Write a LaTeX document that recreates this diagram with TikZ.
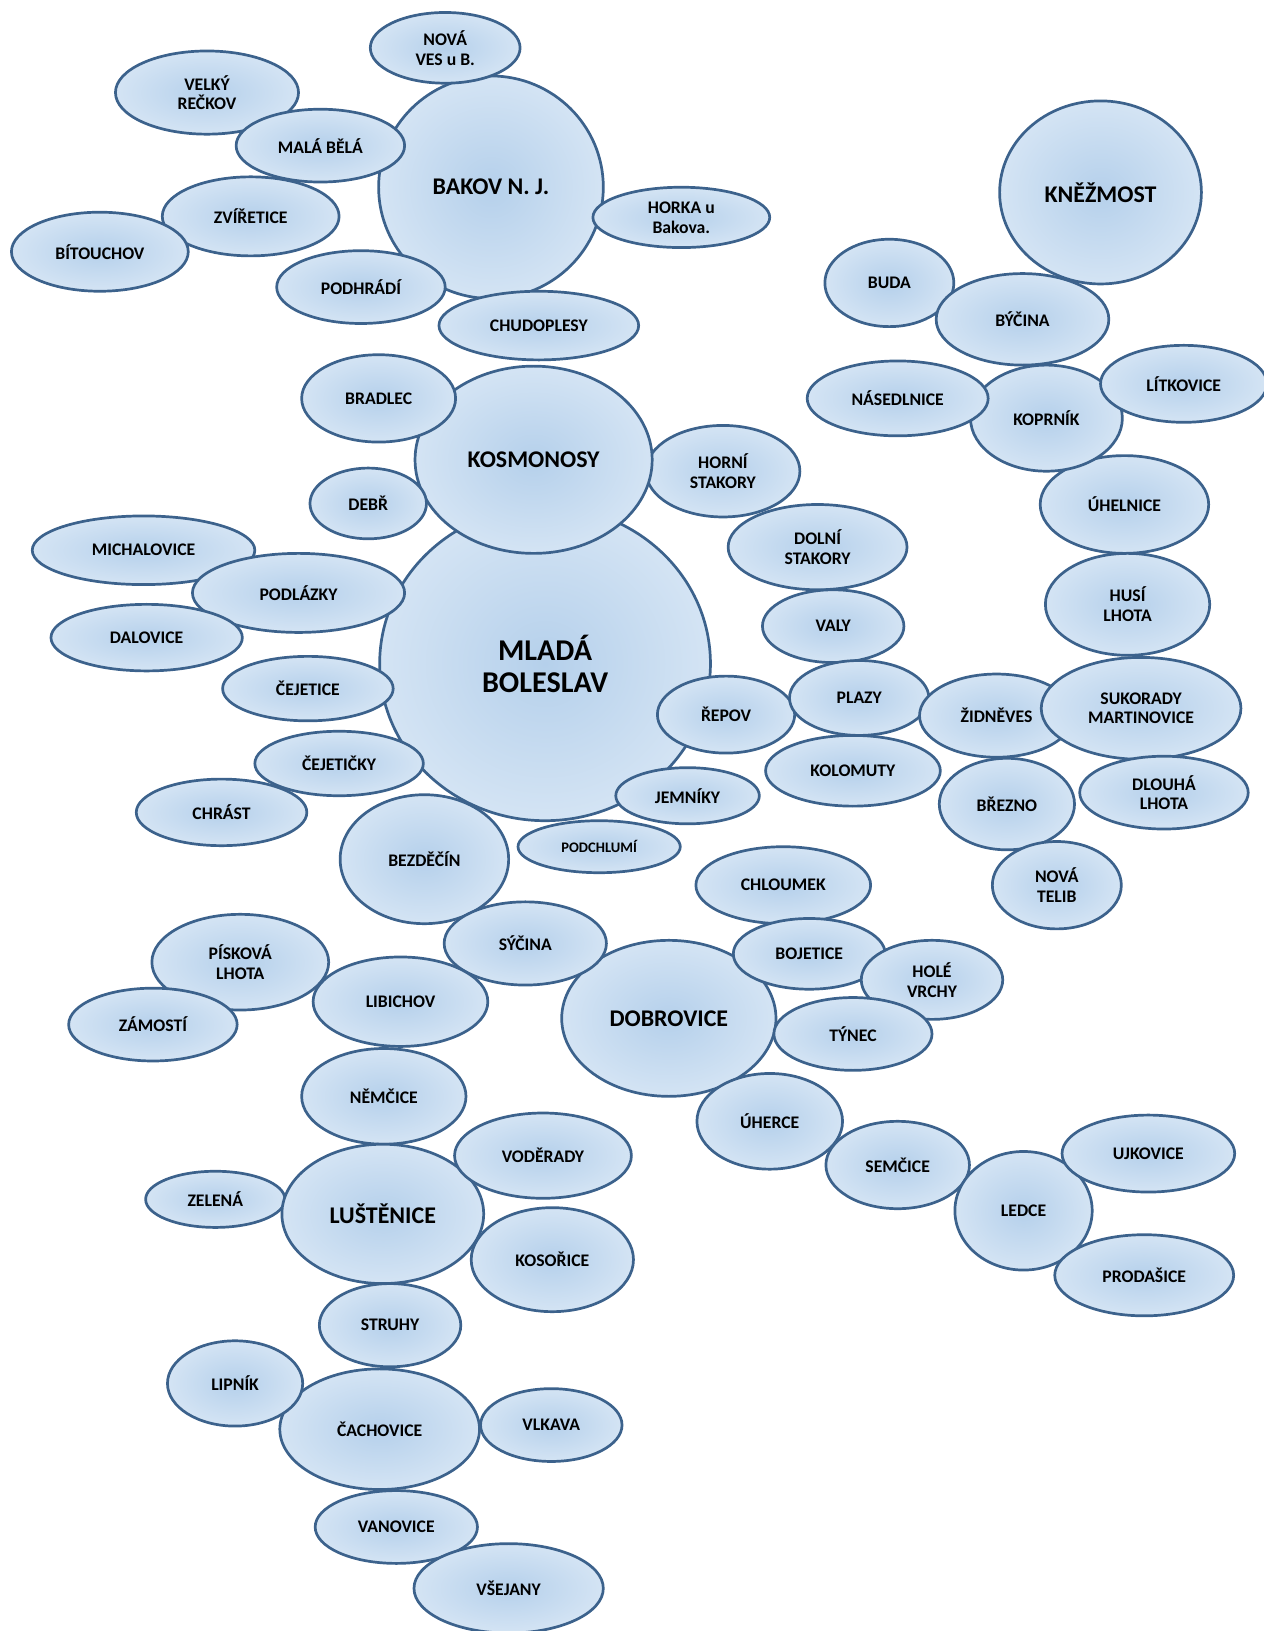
\documentclass[tikz,border=0pt]{standalone}
\usepackage{fontspec}
\setmainfont{Carlito}
\usetikzlibrary{shapes.geometric}
\definecolor{rim}{RGB}{60,98,140}
\definecolor{core}{RGB}{181,208,235}
\definecolor{halo}{RGB}{212,228,244}
\tikzset{
  town/.style={ellipse, draw=rim, line width=2.6pt, inner color=core, outer color=halo,
    inner sep=0pt, align=center, font=\bfseries\fontsize{17}{19}\selectfont},
  big/.style={font=\bfseries\fontsize{23}{26}\selectfont},
  wh/.style 2 args={minimum width=#1pt, minimum height=#2pt}
}

\begin{document}
\begin{tikzpicture}[x=1pt,y=-1pt]
    \useasboundingbox (0,0) rectangle (1215,1568);
    % centre: Mladá Boleslav and Kosmonosy
    \node[town, wh={318}{302}, font=\bfseries\fontsize{29}{31}\selectfont] (mb) at (524,638) {MLADÁ\\BOLESLAV};
    \node[town, wh={148}{88}] (hstak) at (695,453) {HORNÍ\\STAKORY};
    \node[town, big, wh={228}{180}] (kosmo) at (513,442) {KOSMONOSY};
    \node[town, wh={148}{84}] (bradlec) at (364,383) {BRADLEC};
    \node[town, wh={112}{68}] (debr) at (354,484) {DEBŘ};
    % west of the centre
    \node[town, wh={214}{66}] (michal) at (138,529) {MICHALOVICE};
    \node[town, wh={204}{76}] (podlaz) at (287,570) {PODLÁZKY};
    \node[town, wh={184}{64}] (dalov) at (141,613) {DALOVICE};
    \node[town, wh={164}{62}] (cejet) at (296,662) {ČEJETICE};
    \node[town, wh={162}{62}] (cejetic) at (326,734) {ČEJETIČKY};
    \node[town, wh={164}{64}] (chrast) at (213,781) {CHRÁST};
    \node[town, wh={162}{124}] (bezd) at (408,826) {BEZDĚČÍN};
    \node[town, wh={156}{50}, font=\bfseries\fontsize{14}{16}\selectfont] (podchl) at (576,814) {PODCHLUMÍ};
    \node[town, wh={138}{54}] (jemn) at (661,765) {JEMNÍKY};
    \node[town, wh={132}{74}] (repov) at (698,687) {ŘEPOV};
    % east of the centre
    \node[town, wh={172}{82}] (dstak) at (786,526) {DOLNÍ\\STAKORY};
    \node[town, wh={136}{70}] (valy) at (801,602) {VALY};
    \node[town, wh={134}{72}] (plazy) at (826,671) {PLAZY};
    \node[town, wh={168}{68}] (kolom) at (820,741) {KOLOMUTY};
    \node[town, wh={148}{80}] (zidn) at (958,688) {ŽIDNĚVES};
    \node[town, wh={162}{94}] (uheln) at (1081,485) {ÚHELNICE};
    \node[town, wh={158}{98}] (husi) at (1084,581) {HUSÍ\\LHOTA};
    \node[town, wh={192}{98}] (sukor) at (1097,681) {SUKORADY\\MARTINOVICE};
    \node[town, wh={162}{70}] (dlouha) at (1119,762) {DLOUHÁ\\LHOTA};
    \node[town, wh={130}{88}] (brezno) at (968,773) {BŘEZNO};
    \node[town, wh={124}{84}] (telib) at (1016,851) {NOVÁ\\TELIB};
    % north: Bakov
    \node[town, big, wh={216}{214}] (bakov) at (472,180) {BAKOV N. J.};
    \node[town, wh={170}{76}] (zvir) at (241,208) {ZVÍŘETICE};
    \node[town, wh={170}{76}] (bitou) at (96,242) {BÍTOUCHOV};
    \node[town, wh={176}{80}] (recko) at (199,89) {VELKÝ\\REČKOV};
    \node[town, wh={162}{70}] (mala) at (308,140) {MALÁ BĚLÁ};
    \node[town, wh={144}{68}] (novaves) at (428,46) {NOVÁ\\VES u B.};
    \node[town, wh={162}{70}] (podhr) at (347,276) {PODHRÁDÍ};
    \node[town, wh={170}{58}] (horka) at (655,209) {HORKA u\\Bakova.};
    \node[town, wh={192}{66}] (chudo) at (518,313) {CHUDOPLESY};
    % north-east: Kněžmost
    \node[town, wh={124}{84}] (buda) at (855,272) {BUDA};
    \node[town, wh={166}{88}] (bycina) at (983,307) {BÝČINA};
    \node[town, big, wh={194}{176}] (knez) at (1058,185) {KNĚŽMOST};
    \node[town, wh={146}{102}] (koprn) at (1006,402) {KOPRNÍK};
    \node[town, wh={174}{72}] (nased) at (863,383) {NÁSEDLNICE};
    \node[town, wh={160}{74}] (litk) at (1138,369) {LÍTKOVICE};
    % south-east: Dobrovice
    \node[town, wh={168}{74}] (chloum) at (753,851) {CHLOUMEK};
    \node[town, big, wh={206}{150}] (dobro) at (643,979) {DOBROVICE};
    \node[town, wh={146}{68}] (bojet) at (778,917) {BOJETICE};
    \node[town, wh={136}{76}] (hole) at (896,942) {HOLÉ\\VRCHY};
    \node[town, wh={152}{70}] (tynec) at (820,994) {TÝNEC};
    \node[town, wh={156}{80}] (sycina) at (505,907) {SÝČINA};
    \node[town, wh={170}{92}] (piskova) at (231,925) {PÍSKOVÁ\\LHOTA};
    \node[town, wh={162}{70}] (zamost) at (147,985) {ZÁMOSTÍ};
    \node[town, wh={168}{86}] (libich) at (385,963) {LIBICHOV};
    \node[town, wh={158}{92}] (nemc) at (369,1054) {NĚMČICE};
    \node[town, wh={140}{92}] (uherce) at (740,1078) {ÚHERCE};
    \node[town, wh={138}{84}] (semc) at (863,1120) {SEMČICE};
    \node[town, wh={132}{114}] (ledce) at (984,1164) {LEDCE};
    \node[town, wh={166}{74}] (ujkov) at (1104,1109) {UJKOVICE};
    \node[town, wh={172}{78}] (prodas) at (1100,1226) {PRODAŠICE};
    % south: Luštěnice and Čachovice
    \node[town, wh={134}{54}] (zelena) at (207,1153) {ZELENÁ};
    \node[town, big, wh={194}{134}] (lusten) at (368,1167) {LUŠTĚNICE};
    \node[town, wh={170}{82}] (voder) at (522,1111) {VODĚRADY};
    \node[town, wh={156}{100}] (kosor) at (531,1211) {KOSOŘICE};
    \node[town, wh={136}{80}] (struhy) at (375,1274) {STRUHY};
    \node[town, wh={192}{116}] (cachov) at (365,1374) {ČACHOVICE};
    \node[town, wh={130}{82}] (lipnik) at (226,1330) {LIPNÍK};
    \node[town, wh={136}{70}] (vlkava) at (530,1370) {VLKAVA};
    \node[town, wh={156}{70}] (vanov) at (381,1468) {VANOVICE};
    \node[town, wh={182}{86}] (vsejany) at (489,1527) {VŠEJANY};
\end{tikzpicture}
\end{document}
